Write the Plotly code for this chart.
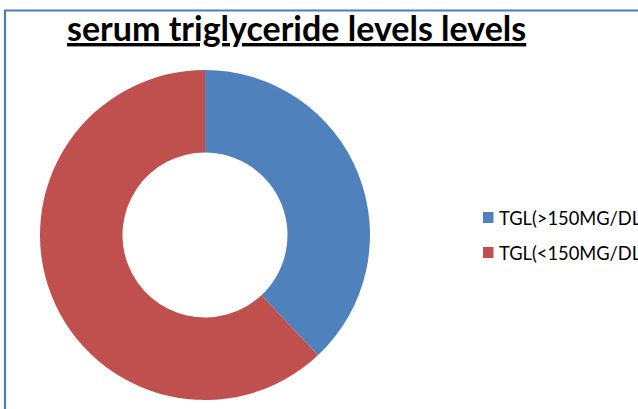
import plotly.graph_objects as go

# Data
labels = ["TGL(>150MG/DL)", "TGL(<150MG/DL)"]
values = [38, 62]
colors = ["#4F81BD", "#C0504D"]
title_text = "serum triglyceride levels levels"

W, H = 638, 409

def px(x):
    return x / W

def py(y):
    return 1 - y / H

fig = go.Figure()
fig.add_trace(go.Pie(
    labels=labels,
    values=values,
    hole=0.5,
    sort=False,
    direction="clockwise",
    rotation=0,
    marker=dict(colors=colors, line=dict(width=0)),
    textinfo="none",
    hoverinfo="label+value",
    showlegend=False,
    domain=dict(x=[px(40), px(370)], y=[py(400.5), py(69.5)]),
))

shapes = []
annotations = []

# Outer chart border (extends beyond the visible window right and bottom)
shapes.append(dict(type="rect", xref="paper", yref="paper",
                   x0=px(5), x1=1.2, y0=-0.2, y1=py(10.5),
                   line=dict(color="#4A7EBB", width=2.2), fillcolor="rgba(0,0,0,0)"))

# Title
annotations.append(dict(text="<b><u>" + title_text + "</u></b>", xref="paper", yref="paper",
                        x=px(296.5), y=py(28), xanchor="center", yanchor="middle",
                        showarrow=False, font=dict(family="Lato", size=34, color="#000000")))

# Manual legend
for i, (lab, col) in enumerate(zip(labels, colors)):
    yc = 217.5 + i * 35
    shapes.append(dict(type="rect", xref="paper", yref="paper",
                       x0=px(483), x1=px(493.5), y0=py(yc + 5.5), y1=py(yc - 5.5),
                       line=dict(width=0), fillcolor=col))
    annotations.append(dict(text=lab, xref="paper", yref="paper",
                            x=px(497), y=py(yc), xanchor="left", yanchor="middle",
                            showarrow=False, font=dict(family="Lato", size=18.3, color="#000000")))

fig.update_layout(
    width=W, height=H,
    margin=dict(l=0, r=0, t=0, b=0, autoexpand=False),
    paper_bgcolor="white",
    plot_bgcolor="white",
    shapes=shapes,
    annotations=annotations,
    showlegend=False,
)

fig.write_html("out.html", config={"displayModeBar": False},
               post_script="document.body.style.margin='0';document.body.style.overflow='hidden';")
